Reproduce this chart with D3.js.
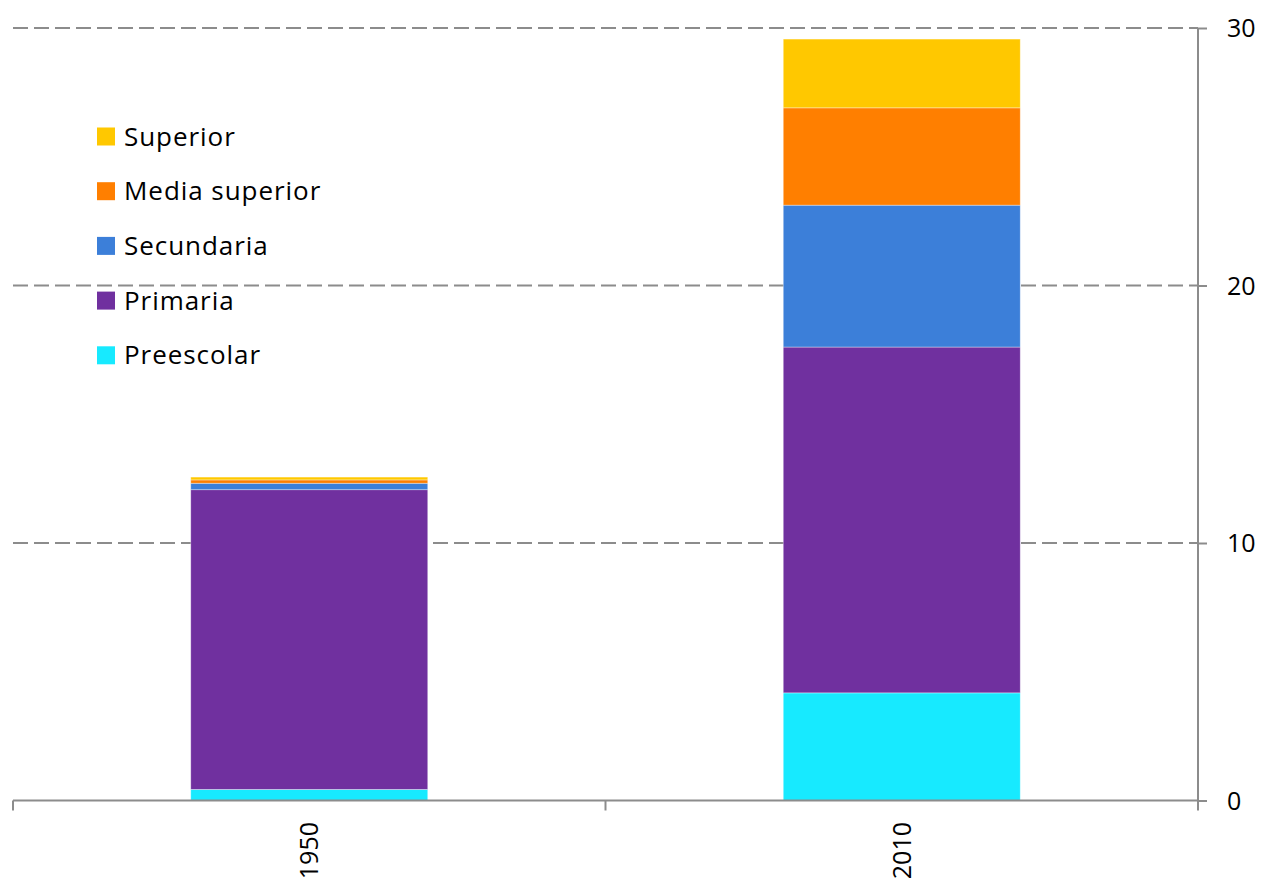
<!DOCTYPE html>
<html>
<head>
<meta charset="utf-8">
<script src="https://cdn.jsdelivr.net/npm/d3@7"></script>
<style>
  html, body { margin: 0; padding: 0; background: #fff; }
  svg { display: block; }
  text { font-family: "Open Sans", Lato, sans-serif; fill: #000; }
</style>
</head>
<body>
<svg id="chart" width="1264" height="885"></svg>
<script>
const categories = ["1950", "2010"];
const seriesNames = ["Preescolar", "Primaria", "Secundaria", "Media superior", "Superior"];
const preescolar = [0.43, 4.18];
const primaria = [11.64, 13.43];
const secundaria = [0.25, 5.51];
const mediaSuperior = [0.13, 3.78];
const superior = [0.11, 2.67];
const yTicks = [0, 10, 20, 30];
const colors = ["#17EAFF", "#70309F", "#3C7FD9", "#FF7F00", "#FFC800"];

const seriesValues = [preescolar, primaria, secundaria, mediaSuperior, superior];
const rows = categories.map((c, i) => {
  const r = { cat: c };
  seriesNames.forEach((s, j) => r[s] = seriesValues[j][i]);
  return r;
});

const svg = d3.select("#chart");
const mLeft = 13, mRight = 1198, mTop = 28, mBottom = 800.5;

const x = d3.scaleBand().domain(categories).range([mLeft, mRight]).paddingInner(0.6).paddingOuter(0.3);
const y = d3.scaleLinear().domain([0, 30]).range([mBottom, mTop]);
const color = d3.scaleOrdinal().domain(seriesNames).range(colors);

// gridlines
svg.append("g").selectAll("line").data(yTicks.filter(d => d > 0)).join("line")
  .attr("x1", mLeft).attr("x2", mRight)
  .attr("y1", d => y(d)).attr("y2", d => y(d))
  .attr("stroke", "#8c8c8c").attr("stroke-width", 2).attr("stroke-dasharray", "15,6");

// stacked bars
const stack = d3.stack().keys(seriesNames)(rows);
svg.append("g").selectAll("g").data(stack).join("g")
  .attr("fill", d => color(d.key))
  .selectAll("rect").data(d => d).join("rect")
  .attr("x", d => x(d.data.cat))
  .attr("width", x.bandwidth())
  .attr("y", d => y(d[1]))
  .attr("height", d => y(d[0]) - y(d[1]))
  .attr("stroke", "rgba(255,255,255,0.45)").attr("stroke-width", 0.8);

// bottom axis line and boundary ticks
const xBounds = [mLeft, mLeft + x.step(), mRight];
const gx = svg.append("g");
gx.append("line").attr("x1", mLeft).attr("x2", mRight).attr("y1", mBottom).attr("y2", mBottom)
  .attr("stroke", "#8c8c8c").attr("stroke-width", 2);
gx.selectAll("line.tk").data(xBounds).join("line").attr("class", "tk")
  .attr("x1", d => d).attr("x2", d => d).attr("y1", mBottom).attr("y2", mBottom + 10)
  .attr("stroke", "#8c8c8c").attr("stroke-width", 2);
gx.selectAll("text").data(categories).join("text")
  .attr("transform", d => `translate(${x(d) + x.bandwidth() / 2 + 9},822) rotate(-90)`)
  .attr("text-anchor", "end")
  .style("font-size", "25px")
  .text(d => d);

// right axis
const gy = svg.append("g").attr("transform", `translate(${mRight},0)`)
  .call(d3.axisRight(y).tickValues(yTicks).tickSize(9).tickPadding(20).tickFormat(d3.format("d")));
gy.selectAll("path, line").attr("stroke", "#8c8c8c").attr("stroke-width", 2);
gy.select("path").attr("d", `M0,${mTop}V${mBottom}`);
gy.selectAll("text").style("font-size", "25px").attr("font-family", null).attr("dy", "0.35em");

// legend
const legendOrder = seriesNames.slice().reverse();
const lg = svg.append("g").selectAll("g").data(legendOrder).join("g")
  .attr("transform", (d, i) => `translate(97,${136.5 + i * 54.7})`);
lg.append("rect").attr("x", 0).attr("y", -9).attr("width", 18).attr("height", 18).attr("fill", d => color(d));
lg.append("text").attr("x", 27).attr("y", 0).attr("dy", "0.35em")
  .style("font-size", "26px").style("letter-spacing", "0.95px").text(d => d);
</script>
</body>
</html>
